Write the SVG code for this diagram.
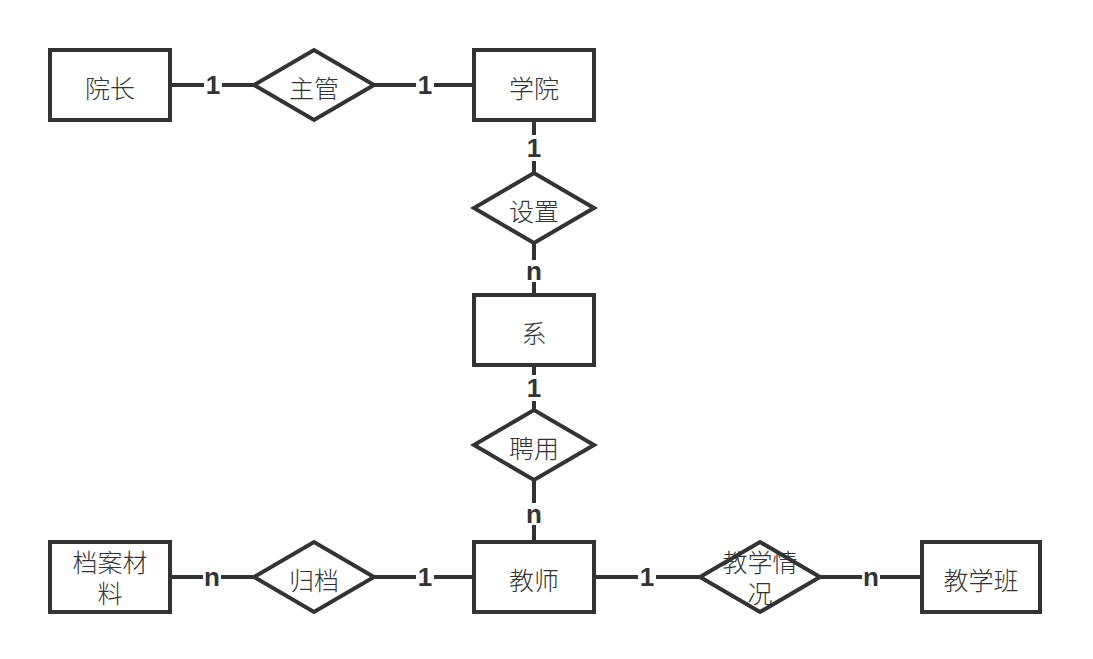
<svg xmlns="http://www.w3.org/2000/svg" width="1093" height="659" viewBox="0 0 1093 659">
<style>
.box{fill:#fff;stroke:#333;stroke-width:4}
.t{font-family:"Noto Sans CJK SC","Noto Sans",sans-serif;font-size:25px;font-weight:300;fill:#333;text-anchor:middle}
.ln{stroke:#333;stroke-width:4;fill:none}
.lb{font-family:"Liberation Sans",Arial,sans-serif;font-size:26px;font-weight:bold;fill:#333;text-anchor:middle}
.bg{fill:#fff}
</style>
<rect width="1093" height="659" fill="#fff"/>
<g id="connectors">
<path class="ln" d="M170 85H254M374 85H474M534 120V173M534 243V295M534 365V410M534 480V542M170 577H254M374 577H474M594 577H700M820 577H921"/>
<rect class="bg" x="204" y="72" width="18" height="26"/><text class="lb" x="213" y="94">1</text>
<rect class="bg" x="416" y="72" width="18" height="26"/><text class="lb" x="425" y="94">1</text>
<rect class="bg" x="525" y="135" width="18" height="26"/><text class="lb" x="534" y="157">1</text>
<rect class="bg" x="525" y="260" width="18" height="22"/><text class="lb" x="534" y="280">n</text>
<rect class="bg" x="525" y="375" width="18" height="26"/><text class="lb" x="534" y="397">1</text>
<rect class="bg" x="525" y="503" width="18" height="22"/><text class="lb" x="534" y="523">n</text>
<rect class="bg" x="203" y="566" width="18" height="22"/><text class="lb" x="212" y="586">n</text>
<rect class="bg" x="416" y="564" width="18" height="26"/><text class="lb" x="425" y="586">1</text>
<rect class="bg" x="638" y="564" width="18" height="26"/><text class="lb" x="647" y="586">1</text>
<rect class="bg" x="862" y="566" width="18" height="22"/><text class="lb" x="871" y="586">n</text>
</g>
<g id="node-yuanzhang"><rect class="box" x="50" y="50" width="120" height="70"/><text class="t" x="110" y="98">院长</text></g>
<g id="node-zhuguan"><polygon class="box" points="254,85 314,50 374,85 314,120"/><text class="t" x="314" y="98">主管</text></g>
<g id="node-xueyuan"><rect class="box" x="474" y="50" width="120" height="70"/><text class="t" x="534" y="98">学院</text></g>
<g id="node-shezhi"><polygon class="box" points="474,208 534,173 594,208 534,243"/><text class="t" x="534" y="221">设置</text></g>
<g id="node-xi"><rect class="box" x="474" y="295" width="120" height="70"/><text class="t" x="534" y="343">系</text></g>
<g id="node-pinyong"><polygon class="box" points="474,445 534,410 594,445 534,480"/><text class="t" x="534" y="458">聘用</text></g>
<g id="node-jiaoshi"><rect class="box" x="474" y="542" width="120" height="70"/><text class="t" x="534" y="590">教师</text></g>
<g id="node-dangan"><rect class="box" x="50" y="542" width="120" height="70"/><text class="t" x="110" y="572">档案材<tspan x="110" dy="31">料</tspan></text></g>
<g id="node-guidang"><polygon class="box" points="254,577 314,542 374,577 314,612"/><text class="t" x="314" y="590">归档</text></g>
<g id="node-jiaoxueqingkuang"><polygon class="box" points="700,577 760,542 820,577 760,612"/><text class="t" x="760" y="572">教学情<tspan x="760" dy="31">况</tspan></text></g>
<g id="node-jiaoxueban"><rect class="box" x="922" y="542" width="118" height="70"/><text class="t" x="981" y="590">教学班</text></g>
</svg>
